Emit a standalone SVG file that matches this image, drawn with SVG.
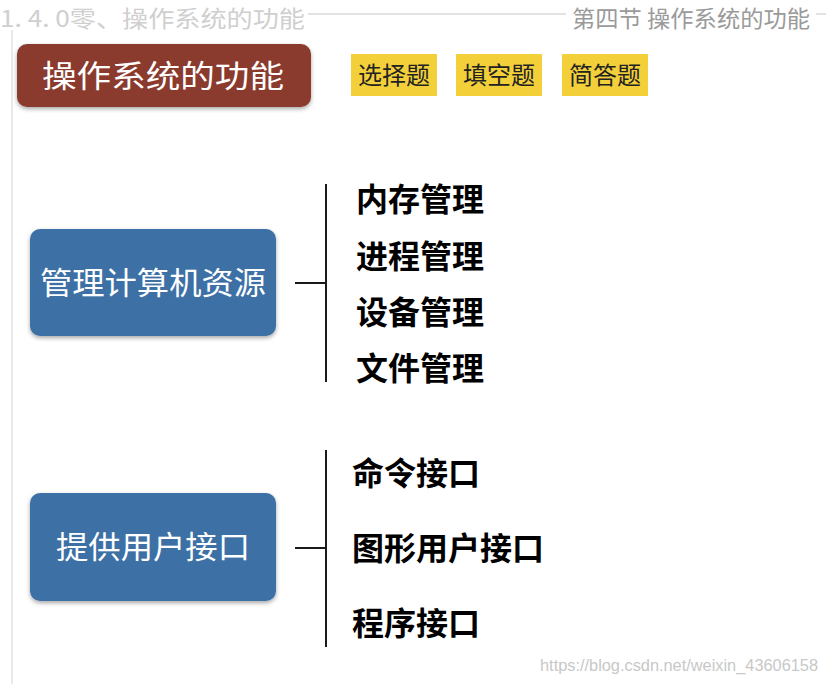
<svg xmlns="http://www.w3.org/2000/svg" width="826" height="684" viewBox="0 0 826 684">
<defs>
<style>
.cjk{font-family:"Noto Sans CJK SC","Noto Sans",sans-serif}
.hdr{fill:#9a9a9a;font-size:23px}
.hdrl{fill:#cfcfcf;font-size:23px}
.nodeTxt{fill:#ffffff;font-size:31px;text-anchor:middle}
.yTxt{fill:#222;font-size:24px;text-anchor:middle}
.leaf{fill:#000;font-size:32px;font-weight:bold}
.blue{fill:#3c71a6}
.ybox{fill:#f3d03a}
.conn{stroke:#1a1a1a;stroke-width:2;fill:none}
</style>
<filter id="sh" x="-10%" y="-10%" width="120%" height="130%">
<feDropShadow dx="0" dy="2" stdDeviation="2" flood-color="#000" flood-opacity="0.35"/>
</filter>
</defs>
<rect width="826" height="684" fill="#ffffff"/>
<line x1="12" y1="30" x2="12" y2="684" stroke="#e2e2e2" stroke-width="1.5"/>
<line x1="308" y1="14" x2="826" y2="14" stroke="#d8d8d8" stroke-width="1.5"/>
<text class="cjk hdrl" x="0" y="27" textLength="305" lengthAdjust="spacingAndGlyphs">1. 4. 0零、操作系统的功能</text>
<rect x="566" y="2" width="250" height="30" fill="#ffffff"/>
<text class="cjk hdr" x="572" y="27" textLength="238" lengthAdjust="spacingAndGlyphs">第四节 操作系统的功能</text>

<g id="title">
<rect x="17" y="44" width="294" height="63" rx="10" fill="#8a3b2f" filter="url(#sh)"/>
<text class="cjk nodeTxt" x="163" y="87" font-size="33" textLength="242" lengthAdjust="spacingAndGlyphs">操作系统的功能</text>
</g>
<g id="tag1"><rect class="ybox" x="351" y="54" width="86" height="42"/><text class="cjk yTxt" x="394" y="84">选择题</text></g>
<g id="tag2"><rect class="ybox" x="456" y="54" width="86" height="42"/><text class="cjk yTxt" x="499" y="84">填空题</text></g>
<g id="tag3"><rect class="ybox" x="562" y="54" width="86" height="42"/><text class="cjk yTxt" x="605" y="84">简答题</text></g>

<g id="res">
<rect class="blue" x="30" y="229" width="246" height="107" rx="10" filter="url(#sh)"/>
<text class="cjk nodeTxt" x="153" y="294" textLength="226" lengthAdjust="spacingAndGlyphs">管理计算机资源</text>
</g>
<g id="ui">
<rect class="blue" x="30" y="493" width="246" height="108" rx="10" filter="url(#sh)"/>
<text class="cjk nodeTxt" x="153" y="558" textLength="194" lengthAdjust="spacingAndGlyphs">提供用户接口</text>
</g>

<g id="connectors">
<line class="conn" x1="295" y1="283" x2="325" y2="283"/>
<line class="conn" x1="326" y1="184" x2="326" y2="382"/>
<line class="conn" x1="295" y1="548" x2="325" y2="548"/>
<line class="conn" x1="326" y1="450" x2="326" y2="647"/>
</g>

<g id="leaf1"><text class="cjk leaf" x="356" y="211">内存管理</text></g>
<g id="leaf2"><text class="cjk leaf" x="356" y="268">进程管理</text></g>
<g id="leaf3"><text class="cjk leaf" x="356" y="324">设备管理</text></g>
<g id="leaf4"><text class="cjk leaf" x="356" y="380">文件管理</text></g>
<g id="leaf5"><text class="cjk leaf" x="352" y="485">命令接口</text></g>
<g id="leaf6"><text class="cjk leaf" x="352" y="560">图形用户接口</text></g>
<g id="leaf7"><text class="cjk leaf" x="352" y="635">程序接口</text></g>

<text x="540" y="671" font-family="Liberation Sans, sans-serif" font-size="16" fill="#c8c8c8" textLength="278" lengthAdjust="spacingAndGlyphs">https://blog.csdn.net/weixin_43606158</text>
</svg>
